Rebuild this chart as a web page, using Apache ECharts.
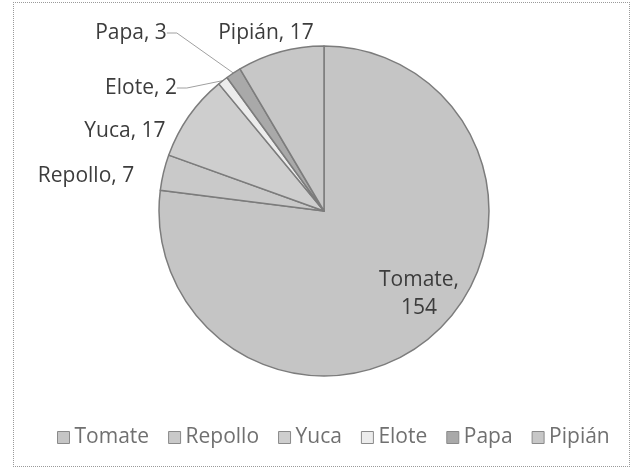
<!DOCTYPE html>
<html>
<head>
<meta charset="utf-8">
<script src="https://cdn.jsdelivr.net/npm/echarts@6/dist/echarts.min.js"></script>
<style>
html,body{margin:0;padding:0;background:#fff;}
#frame{position:absolute;left:13px;top:2px;width:617px;height:465px;border:1px dotted #9a9a9a;box-sizing:border-box;}
#c{position:absolute;left:0;top:0;width:636px;height:470px;}
</style>
</head>
<body>
<div id="frame"></div>
<div id="c"></div>
<script>
const categories = ['Tomate', 'Repollo', 'Yuca', 'Elote', 'Papa', 'Pipián'];
const values = [154, 7, 17, 2, 3, 17];
const colors = ['#c5c5c5', '#c9c9c9', '#cecece', '#ececec', '#a9a9a9', '#c7c7c7'];

// label anchor positions (text centre) for each slice
const labelPos = [[419, 294], [86, 176], [125, 131], [141, 88], [131, 33], [266, 33]];
const showLine = [false, false, false, true, true, false];

const chart = echarts.init(document.getElementById('c'));
chart.setOption({
  animation: false,
  color: colors,
  legend: {
    top: 422,
    left: 52,
    itemWidth: 12,
    itemHeight: 12,
    itemGap: 19,
    icon: 'rect',
    textStyle: {color: '#707070', fontSize: 21, fontFamily: 'Open Sans'},
    itemStyle: {borderColor: '#8a8a8a', borderWidth: 1},
    data: categories
  },
  series: [{
    type: 'pie',
    center: [324, 211],
    radius: 165,
    startAngle: 90,
    clockwise: true,
    itemStyle: {borderColor: '#7c7c7c', borderWidth: 1.5},
    label: {
      show: true,
      formatter: p => p.dataIndex === 0 ? p.name + ',\n' + p.value : p.name + ', ' + p.value,
      color: '#3c3c3c',
      fontSize: 21,
      fontFamily: 'Open Sans',
      lineHeight: 28,
      align: 'center'
    },
    labelLine: {show: true, lineStyle: {color: '#a0a0a0', width: 1}, length: 10, length2: 10},
    labelLayout: function (p) {
      const pos = labelPos[p.dataIndex];
      return {x: pos[0], y: pos[1], align: 'center', verticalAlign: 'middle'};
    },
    data: categories.map((n, i) => ({
      name: n,
      value: values[i],
      label: i === 0 ? {position: 'inside'} : {position: 'outside'},
      labelLine: {show: showLine[i]}
    }))
  }]
});
</script>
</body>
</html>
